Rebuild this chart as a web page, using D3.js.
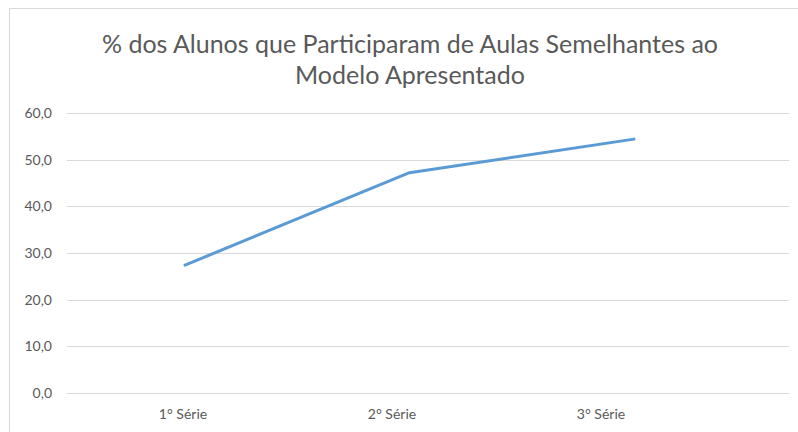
<!DOCTYPE html>
<html lang="pt">
  <head>
    <meta charset="UTF-8" />
    <title>% dos Alunos</title>
    <script src="https://cdn.jsdelivr.net/npm/d3@7"></script>
    <style>
      body { margin: 0; background: #fff; }
      text { font-family: Lato, "Open Sans", sans-serif; fill: #595959; }
    </style>
  </head>
  <body>
    <script>
      const categories = ["1° Série", "2° Série", "3° Série"];
      const values = [27.4, 47.2, 54.4];
      const yTicks = [0, 10, 20, 30, 40, 50, 60];
      const titleLines = [
        "% dos Alunos que Participaram de Aulas Semelhantes ao",
        "Modelo Apresentado",
      ];

      const width = 798;
      const height = 432;
      const svg = d3
        .select("body")
        .append("svg")
        .attr("width", width)
        .attr("height", height);

      // frame
      svg
        .append("rect")
        .attr("x", 9.5)
        .attr("y", 8.5)
        .attr("width", 820)
        .attr("height", 450)
        .attr("fill", "none")
        .attr("stroke", "#d9d9d9");

      // title
      svg
        .append("g")
        .selectAll("text")
        .data(titleLines)
        .enter()
        .append("text")
        .attr("x", 410)
        .attr("y", (d, i) => 53 + i * 31)
        .attr("text-anchor", "middle")
        .style("font-size", "25px")
        .text((d) => d);

      const y = d3.scaleLinear().domain([0, 60]).range([393, 113]);
      const xLine = d3.scalePoint().domain(categories).range([185, 634]);
      const xLabel = d3.scalePoint().domain(categories).range([183, 601]);

      const pt = d3.formatLocale({ decimal: ",", thousands: ".", grouping: [3], currency: ["R$", ""] });
      const fmt = pt.format(".1f");

      // gridlines
      svg
        .append("g")
        .selectAll("line")
        .data(yTicks)
        .enter()
        .append("line")
        .attr("x1", 67)
        .attr("x2", 789)
        .attr("y1", (d) => Math.round(y(d)) + 0.5)
        .attr("y2", (d) => Math.round(y(d)) + 0.5)
        .attr("stroke", "#d9d9d9")
        .attr("stroke-width", 1);

      // y labels
      svg
        .append("g")
        .selectAll("text")
        .data(yTicks)
        .enter()
        .append("text")
        .attr("x", 52)
        .attr("y", (d) => y(d))
        .attr("dy", "0.35em")
        .attr("text-anchor", "end")
        .style("font-size", "14px")
        .text((d) => fmt(d));

      // x labels
      svg
        .append("g")
        .selectAll("text")
        .data(categories)
        .enter()
        .append("text")
        .attr("x", (d) => xLabel(d))
        .attr("y", 419)
        .attr("text-anchor", "middle")
        .style("font-size", "14px")
        .text((d) => d);

      // line
      const line = d3
        .line()
        .x((d, i) => xLine(categories[i]))
        .y((d) => y(d));
      svg
        .append("path")
        .datum(values)
        .attr("fill", "none")
        .attr("stroke", "#5b9bd5")
        .attr("stroke-width", 3)
        .attr("stroke-linecap", "round")
        .attr("stroke-linejoin", "round")
        .attr("d", line);
    </script>
  </body>
</html>
